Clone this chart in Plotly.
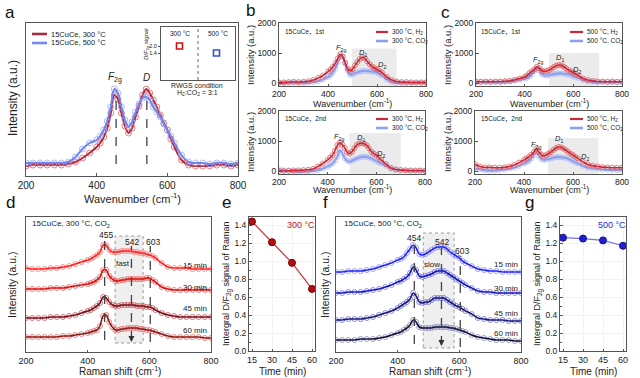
import plotly.graph_objects as go

W, H = 640, 378

# ---------------- data ----------------
WN = [200, 220, 240, 260, 280, 300, 320, 340, 360, 380,
      400, 410, 420, 430, 440, 450, 460, 470, 480, 490, 500, 510, 520, 530, 540, 550,
      560, 570, 580, 590, 600, 610, 620,
      640, 660, 680, 700, 720, 740, 760, 780, 800]

# panel a (arbitrary units)
A_300 = [10, 11, 11, 11, 11, 11, 12, 14, 18, 23,
         29, 33, 39, 48, 63, 81, 77, 63, 50, 43, 48, 59, 70, 81, 87, 83,
         76, 69, 61, 53, 46, 37, 29,
         16, 11, 10, 10, 10, 11, 11, 10, 11]
A_500 = [13, 13, 13, 13, 13, 13, 14, 19, 27, 33,
         36, 40, 46, 55, 69, 87, 83, 69, 56, 49, 54, 64, 72, 78, 79, 76,
         69, 64, 59, 52, 46, 40, 33,
         21, 14, 13, 13, 12, 13, 13, 12, 13]

# panel b (300 C)
B1_H2 = [20, 20, 30, 40, 30, 40, 60, 100, 170, 250,
         380, 450, 540, 660, 820, 960, 880, 680, 480, 400, 460, 580, 700, 800, 860, 820,
         720, 630, 550, 500, 450, 400, 350,
         200, 100, 50, 30, 30, 20, 20, 20, 20]
B1_CO2 = [0, -10, 0, 0, 0, 0, 10, 30, 60, 120,
          200, 260, 350, 480, 700, 920, 880, 650, 400, 270, 290, 330, 360, 380, 400, 400,
          400, 390, 380, 370, 350, 300, 250,
          120, 30, 0, 0, -10, 0, 0, 0, 0]
B2_H2 = [0, 0, 10, 20, 20, 30, 40, 70, 150, 250,
         370, 440, 530, 680, 860, 950, 880, 770, 620, 580, 640, 760, 870, 920, 930, 910,
         860, 760, 640, 580, 530, 450, 370,
         230, 100, 50, 30, 20, 10, 10, 10, 0]
B2_CO2 = [60, 20, 0, -20, -30, -30, -10, 10, 30, 80,
          150, 200, 250, 350, 480, 700, 600, 430, 340, 310, 340, 390, 420, 450, 470, 480,
          470, 450, 420, 380, 330, 290, 250,
          170, 90, 50, 30, 20, 20, 20, 20, 20]

# panel c (500 C)
C1_H2 = [50, 40, 50, 40, 50, 50, 60, 70, 110, 150,
         200, 250, 330, 390, 450, 540, 500, 410, 390, 400, 430, 480, 530, 580, 600, 590,
         550, 490, 430, 390, 350, 300, 250,
         150, 100, 70, 50, 50, 40, 50, 40, 50]
C1_CO2 = [30, 30, 30, 30, 30, 30, 40, 50, 80, 110,
          150, 180, 220, 300, 400, 480, 420, 300, 260, 250, 270, 290, 300, 310, 320, 320,
          310, 300, 290, 260, 220, 200, 170,
          100, 50, 40, 30, 30, 30, 30, 30, 30]
C2_H2 = [230, 150, 120, 120, 110, 110, 120, 150, 200, 280,
         370, 420, 470, 540, 630, 750, 640, 550, 500, 530, 580, 630, 700, 760, 800, 790,
         750, 700, 640, 580, 530, 470, 420,
         310, 220, 180, 150, 130, 120, 110, 110, 110]
C2_CO2 = [90, 50, 20, 0, 10, 30, 50, 80, 110, 170,
          250, 290, 330, 420, 530, 650, 520, 400, 370, 380, 400, 420, 440, 460, 470, 460,
          450, 440, 410, 370, 330, 290, 250,
          170, 110, 90, 70, 50, 40, 30, 30, 30]

# panel d (300 C, CO2, stacked, arbitrary units)
D_15 = [84, 83, 83, 83, 84, 84, 85, 86, 88, 90,
        92, 93, 95, 97, 100, 107, 107, 102, 100, 100, 100, 101, 101, 101, 101, 100,
        100, 99, 99, 98, 97, 96, 94,
        89, 85, 84, 84, 84, 83, 83, 83, 83]
D_30 = [63, 63, 63, 63, 64, 64, 64, 65, 66, 67,
        68, 69, 70, 72, 75, 82, 82, 76, 73, 71, 71, 72, 72, 73, 73, 73,
        73, 73, 73, 74, 74, 72, 70,
        65, 63, 62, 62, 62, 62, 62, 62, 62]
D_45 = [34, 34, 34, 34, 35, 35, 35, 36, 37, 39,
        41, 42, 44, 46, 49, 55, 54, 50, 47, 46, 46, 47, 47, 47, 47, 47,
        46, 46, 46, 45, 45, 44, 42,
        39, 37, 36, 35, 35, 35, 35, 35, 35]
D_60 = [15, 15, 15, 15, 15, 15, 16, 16, 17, 18,
        19, 20, 21, 22, 26, 36, 37, 30, 25, 22, 22, 23, 23, 24, 24, 24,
        24, 23, 23, 22, 22, 21, 20,
        18, 16, 15, 15, 15, 15, 15, 14, 14]

# panel f (500 C, CO2, stacked)
F_15 = [80, 80, 81, 81, 81, 82, 83, 85, 87, 89,
        92, 93, 95, 99, 103, 107, 104, 98, 97, 98, 100, 102, 104, 105, 105, 105,
        103, 100, 98, 96, 94, 91, 89,
        86, 83, 82, 81, 81, 80, 80, 80, 80]
F_30 = [59, 59, 60, 60, 60, 61, 62, 63, 65, 67,
        70, 71, 73, 75, 79, 85, 82, 76, 75, 76, 77, 78, 80, 81, 81, 81,
        79, 77, 75, 73, 71, 69, 67,
        64, 61, 60, 60, 59, 59, 59, 59, 59]
F_45 = [32, 32, 33, 33, 33, 34, 35, 37, 39, 41,
        44, 46, 48, 50, 53, 59, 56, 50, 49, 50, 50, 52, 54, 54, 54, 54,
        52, 50, 48, 46, 45, 43, 41,
        38, 34, 33, 32, 32, 32, 31, 31, 31]
F_60 = [12, 12, 12, 12, 13, 13, 13, 14, 15, 17,
        19, 20, 22, 24, 27, 32, 30, 25, 24, 24, 24, 24, 25, 25, 25, 25,
        25, 24, 24, 23, 22, 21, 20,
        17, 15, 14, 13, 12, 12, 12, 11, 11]

TIME = [15, 30, 45, 60]
E_300 = [1.44, 1.21, 0.98, 0.69]
G_500 = [1.26, 1.25, 1.23, 1.17]

INSET_X_300 = [0.5]
INSET_Y_300 = [2.0]
INSET_X_500 = [1.5]
INSET_Y_500 = [1.4]

WN_TICKS = [200, 400, 600, 800]

# ---------------- layout helpers ----------------
FONT = "Liberation Sans, Arial, Noto Sans CJK SC, sans-serif"
BOXES = {
    1: (26, 238, 23, 176),    # a
    2: (161, 235, 27, 80),    # a inset
    3: (279, 426, 23, 86),    # b 1st
    4: (279, 425, 111, 174),  # b 2nd
    5: (476, 622, 23, 86),    # c 1st
    6: (475, 622, 111, 174),  # c 2nd
    7: (26, 211, 217, 352),   # d
    8: (249, 315, 217, 351),  # e
    9: (336, 521, 217, 352),  # f
    10: (560, 626, 217, 351), # g
}


def px(x, y):
    return x / W, 1 - y / H


fig = go.Figure()
layout = dict(width=W, height=H, margin=dict(l=0, r=0, t=0, b=0, pad=0),
              paper_bgcolor="white", plot_bgcolor="white", showlegend=False,
              font=dict(family=FONT, color="#222"))

AX = dict(showline=True, mirror=True, linecolor="#555", linewidth=1, ticks="inside",
          ticklen=3, tickcolor="#555", showgrid=False, zeroline=False, automargin=False)


def set_axes(i, xr, yr, xkw=None, ykw=None):
    b = BOXES[i]
    sx = "" if i == 1 else str(i)
    xa = dict(AX, domain=[b[0] / W, b[1] / W], range=xr, anchor="y" + sx)
    ya = dict(AX, domain=[1 - b[3] / H, 1 - b[2] / H], range=yr, anchor="x" + sx)
    if xkw:
        xa.update(xkw)
    if ykw:
        ya.update(ykw)
    layout["xaxis" + sx] = xa
    layout["yaxis" + sx] = ya


def ref(i):
    s = "" if i == 1 else str(i)
    return "x" + s, "y" + s


def spectrum(i, y, line_c, mark_c, msize=5, lw=1.6):
    xr, yr = ref(i)
    fig.add_trace(go.Scatter(x=WN, y=y, xaxis=xr, yaxis=yr, mode="markers",
                             marker=dict(symbol="circle-open", size=msize, color=mark_c,
                                         line=dict(width=0.8, color=mark_c)),
                             hoverinfo="skip"))
    fig.add_trace(go.Scatter(x=WN, y=y, xaxis=xr, yaxis=yr, mode="lines",
                             line=dict(color=line_c, width=lw, shape="spline", smoothing=0.9),
                             hoverinfo="skip"))


ANN = []
SHAPES = []


def text_px(t, x, y, size, color="#222", angle=0, xanchor="center", yanchor="middle"):
    px_, py_ = px(x, y)
    ANN.append(dict(text=t, x=px_, y=py_, xref="paper", yref="paper", showarrow=False,
                    font=dict(size=size, color=color, family=FONT), textangle=angle,
                    xanchor=xanchor, yanchor=yanchor))


def text_data(i, t, x, y, size, color="#222", xanchor="center", yanchor="middle"):
    xr, yr = ref(i)
    ANN.append(dict(text=t, x=x, y=y, xref=xr, yref=yr, showarrow=False,
                    font=dict(size=size, color=color, family=FONT),
                    xanchor=xanchor, yanchor=yanchor))


def vline(i, x, y0, y1, color="#444", dash="dash", width=1.3):
    xr, yr = ref(i)
    SHAPES.append(dict(type="line", xref=xr, yref=yr, x0=x, x1=x, y0=y0, y1=y1,
                       line=dict(color=color, dash=dash, width=width)))


def arrow_down(i, x, y):
    xr, yr = ref(i)
    ANN.append(dict(text="", x=x, y=y, xref=xr, yref=yr, showarrow=True, arrowhead=2,
                    arrowsize=1, arrowwidth=1.2, arrowcolor="#333", ax=0, ay=-8))


def rect(i, x0, x1, y0, y1, fill="#ebebeb", line=None):
    xr, yr = ref(i)
    SHAPES.append(dict(type="rect", xref=xr, yref=yr, x0=x0, x1=x1, y0=y0, y1=y1,
                       fillcolor=fill, layer="below",
                       line=line if line else dict(width=0)))


def legend_line(x0, x1, y, color, width=2.2):
    a0, b0 = px(x0, y)
    a1, _ = px(x1, y)
    SHAPES.append(dict(type="line", xref="paper", yref="paper", x0=a0, x1=a1, y0=b0, y1=b0,
                       line=dict(color=color, width=width)))


# ---------------- panel a ----------------
set_axes(1, [200, 800], [0, 153],
         xkw=dict(tickvals=WN_TICKS, tickfont=dict(size=10)),
         ykw=dict(showticklabels=False, ticks=""))
RED_L, RED_M = "#b8283a", "#e26060"
BLU_L, BLU_M = "#6f84ee", "#98aaf5"
spectrum(1, A_300, RED_L, RED_M, msize=6, lw=2)
spectrum(1, A_500, BLU_L, BLU_M, msize=6, lw=2)
vline(1, 455, 12, 76)
vline(1, 542, 12, 76)
text_data(1, "<i>F</i><sub>2g</sub>", 452, 98, 10)
text_data(1, "<i>D</i>", 540, 98, 10)
legend_line(32, 47, 34, "#a03040", 2.6)
legend_line(32, 47, 43, "#7788ee", 2.6)
text_px("15CuCe, 300 °C", 49, 34, 7.5, xanchor="left")
text_px("15CuCe, 500 °C", 49, 43, 7.5, xanchor="left")
text_px("Intensity (a.u.)", 13, 98, 12, angle=-90)
text_px("Wavenumber (cm<sup>-1</sup>)", 132, 198, 11)

# inset
set_axes(2, [0, 2], [-0.91, 3.63],
         xkw=dict(showticklabels=False, ticks=""),
         ykw=dict(tickvals=[1.4, 2.0], ticktext=["1.4", "2.0"], tickfont=dict(size=5.5),
                  ticklen=2, ticks="outside"))
fig.add_trace(go.Scatter(x=INSET_X_300, y=INSET_Y_300, xaxis="x2", yaxis="y2", mode="markers",
                         marker=dict(symbol="square-open", size=6, color="#d01010",
                                     line=dict(width=1.6, color="#d01010"))))
fig.add_trace(go.Scatter(x=INSET_X_500, y=INSET_Y_500, xaxis="x2", yaxis="y2", mode="markers",
                         marker=dict(symbol="square-open", size=6, color="#3050e0",
                                     line=dict(width=1.6, color="#3050e0"))))
vline(2, 1, -0.91, 3.63, color="#666", dash="dot", width=1)
text_px("300 °C", 180, 33, 6.5)
text_px("500 °C", 218, 33, 6.5)
text_px("<i>D</i>/<i>F</i><sub>2g</sub> signal", 146, 44, 6, angle=-90)
text_px("RWGS condition", 197, 85, 7)
text_px("H<sub>2</sub>:CO<sub>2</sub> = 3:1", 197, 93, 7)

# ---------------- panels b, c ----------------
BC = dict(xkw=dict(tickvals=WN_TICKS, tickfont=dict(size=8.5), ticklen=2),
          ykw=dict(tickvals=[0, 1000, 2000], tickfont=dict(size=8.5)))
for i in (3, 4, 5, 6):
    set_axes(i, [200, 800], [-100, 2000], **BC)

B_RED_L, B_RED_M = "#c8283c", "#dc6060"
B_BLU_L, B_BLU_M = "#8ea0ee", "#b0bef4"

rect(3, 498, 680, -100, 1150)
rect(4, 490, 700, -100, 1270)
rect(5, 500, 706, -100, 1000)
rect(6, 498, 704, -100, 1100)

spectrum(3, B1_CO2, B_BLU_L, B_BLU_M, msize=5, lw=2.2)
spectrum(3, B1_H2, B_RED_L, B_RED_M, msize=5, lw=1.6)
spectrum(4, B2_CO2, B_BLU_L, B_BLU_M, msize=5, lw=2.2)
spectrum(4, B2_H2, B_RED_L, B_RED_M, msize=5, lw=1.6)
spectrum(5, C1_CO2, B_BLU_L, B_BLU_M, msize=5, lw=2.2)
spectrum(5, C1_H2, B_RED_L, B_RED_M, msize=5, lw=1.6)
spectrum(6, C2_CO2, B_BLU_L, B_BLU_M, msize=5, lw=2.2)
spectrum(6, C2_H2, B_RED_L, B_RED_M, msize=5, lw=1.6)

for i, f, d1, d2 in ((3, (455, 1170), (543, 1000), (620, 600)),
                     (4, (449, 1130), (539, 1100), (620, 570)),
                     (5, (455, 770), (545, 830), (615, 430)),
                     (6, (453, 870), (543, 1070), (649, 470))):
    text_data(i, "<i>F</i><sub>2g</sub>", f[0], f[1], 7.5)
    text_data(i, "<i>D</i><sub>1</sub>", d1[0], d1[1], 7.5)
    text_data(i, "<i>D</i><sub>2</sub>", d2[0], d2[1], 7.5)

for (lx0, lx1, ty0, title, temp) in ((376, 388, 32, "15CuCe，1st", "300"),
                                     (376, 388, 119, "15CuCe，2nd", "300"),
                                     (570, 583, 32, "15CuCe，1st", "500"),
                                     (570, 583, 119, "15CuCe，2nd", "500")):
    legend_line(lx0, lx1, ty0, B_RED_L, 2.2)
    legend_line(lx0, lx1, ty0 + 9, B_BLU_L, 2.6)
    text_px(temp + " °C, H<sub>2</sub>", lx1 + 2, ty0, 6.5, xanchor="left")
    text_px(temp + " °C, CO<sub>2</sub>", lx1 + 2, ty0 + 9, 6.5, xanchor="left")
    bx = 283 if temp == "300" else 479
    text_px(title, bx, ty0, 6.5, xanchor="left")

for yc in (55, 142):
    text_px("Intensity (a.u.)", 251, yc, 9.5, angle=-90)
    text_px("Intensity (a.u.)", 448, yc, 9.5, angle=-90)
for yc in (103, 189.5):
    text_px("Wavenumber (cm<sup>-1</sup>)", 352, yc, 9)
    text_px("Wavenumber (cm<sup>-1</sup>)", 549, yc, 9)

# ---------------- panel d ----------------
set_axes(7, [200, 800], [0, 135],
         xkw=dict(tickvals=WN_TICKS, tickfont=dict(size=9), ticklen=2),
         ykw=dict(showticklabels=False, ticks=""))
rect(7, 489, 580, 9, 116, fill="#efefef", line=dict(color="#999", dash="dot", width=1))
spectrum(7, D_15, "#ff2020", "#ff7878", msize=5)
spectrum(7, D_30, "#d81010", "#f06060", msize=5)
spectrum(7, D_45, "#741020", "#d05050", msize=5)
spectrum(7, D_60, "#8a1818", "#e46464", msize=5)
vline(7, 455, 12, 111)
vline(7, 542, 12, 106)
vline(7, 603, 10, 106)
arrow_down(7, 542, 10)
text_data(7, "455", 458, 117, 8.5)
text_data(7, "542", 543, 110, 8.5)
text_data(7, "603", 612, 110, 8.5)
text_data(7, "fast", 515, 89, 8)
for t, yv in (("15 min", 87), ("30 min", 65), ("45 min", 44), ("60 min", 22)):
    text_data(7, t, 792, yv, 8, xanchor="right")
text_px("15CuCe, 300 °C, CO<sub>2</sub>", 30, 224, 8, xanchor="left")
text_px("Intensity (a.u.)", 12, 285, 10.5, angle=-90)
text_px("Raman shift (cm<sup>-1</sup>)", 120, 371, 10)

# ---------------- panel f ----------------
set_axes(9, [200, 800], [0, 135],
         xkw=dict(tickvals=WN_TICKS, tickfont=dict(size=9), ticklen=2),
         ykw=dict(showticklabels=False, ticks=""))
rect(9, 483, 583, 4, 119, fill="#efefef", line=dict(color="#999", dash="dot", width=1))
spectrum(9, F_15, "#2626ee", "#8a8aff", msize=5)
spectrum(9, F_30, "#1414bc", "#7474e4", msize=5)
spectrum(9, F_45, "#1a1a78", "#6c6cd0", msize=5)
spectrum(9, F_60, "#121230", "#8484c0", msize=5)
vline(9, 454, 8, 110)
vline(9, 542, 7, 104)
vline(9, 603, 5, 96)
arrow_down(9, 542, 6)
text_data(9, "454", 452, 114, 8.5)
text_data(9, "542", 543, 110, 8.5)
text_data(9, "603", 610, 101, 8.5)
text_data(9, "slow", 512, 88, 8)
for t, yv in (("15 min", 88), ("30 min", 64), ("45 min", 39), ("60 min", 19)):
    text_data(9, t, 797, yv, 8, xanchor="right")
text_px("15CuCe, 500 °C, CO<sub>2</sub>", 342, 224, 8, xanchor="left")
text_px("Intensity (a.u.)", 325, 285, 10.5, angle=-90)
text_px("Raman shift (cm<sup>-1</sup>)", 430, 371, 10)

# ---------------- panels e, g ----------------
EG_X = dict(tickvals=TIME, tickfont=dict(size=9), showgrid=True, gridcolor="#f2f2f2",
            ticks="inside", ticklen=2)
EG_Y = dict(tickvals=[0, 0.2, 0.4, 0.6, 0.8, 1.0, 1.2, 1.4], tickformat=".1f",
            tickfont=dict(size=8.5), showgrid=True, gridcolor="#f2f2f2", ticks="inside",
            minor=dict(ticks="inside", ticklen=2, dtick=0.1, tickcolor="#555"))
set_axes(8, [12.75, 62.25], [0, 1.49], xkw=EG_X, ykw=EG_Y)
set_axes(10, [12.75, 62.25], [0, 1.49], xkw=EG_X, ykw=EG_Y)
fig.add_trace(go.Scatter(x=TIME, y=E_300, xaxis="x8", yaxis="y8", mode="lines+markers",
                         line=dict(color="#c83232", width=1.2),
                         marker=dict(size=7, color="#b80c0c", line=dict(color="#6a0000", width=1))))
fig.add_trace(go.Scatter(x=TIME, y=G_500, xaxis="x10", yaxis="y10", mode="lines+markers",
                         line=dict(color="#7070f0", width=1.2),
                         marker=dict(size=7, color="#2020d0", line=dict(color="#10108a", width=1))))
text_px("300 °C", 301, 225, 9, color="#c01818")
text_px("500 °C", 612, 225, 9, color="#2a2ad8")
text_px("Intergral D/F<sub>2g</sub> signal of Raman", 227, 284, 9, angle=-90)
text_px("Intergral D/F<sub>2g</sub> signal of Raman", 538, 284, 9, angle=-90)
text_px("Time (min)", 282, 371, 10)
text_px("Time (min)", 593, 371, 10)

# ---------------- panel letters ----------------
for t, x, y in (("a", 10, 12), ("b", 250, 11), ("c", 445, 12), ("d", 10, 202),
                ("e", 226, 202), ("f", 325, 202), ("g", 529, 202)):
    text_px(t, x, y, 17, color="#111")

layout["annotations"] = ANN
layout["shapes"] = SHAPES
fig.update_layout(**layout)
fig.write_html("out.html", config={"displayModeBar": False},
               post_script="document.body.style.margin='0';document.body.style.overflow='hidden';")
